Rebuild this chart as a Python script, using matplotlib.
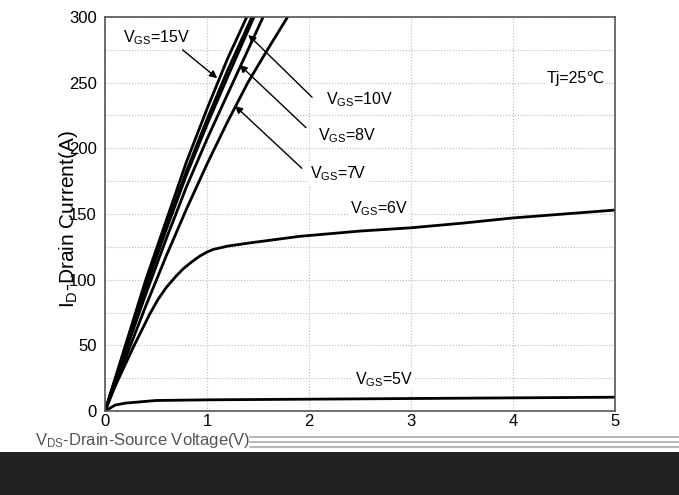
import numpy as np
import matplotlib
matplotlib.use('Agg')
import matplotlib.pyplot as plt
from matplotlib.patches import Rectangle
from matplotlib.lines import Line2D
from matplotlib.ticker import MultipleLocator

plt.rcParams['font.family'] = ['Liberation Sans', 'DejaVu Sans']
plt.rcParams['mathtext.fontset'] = 'custom'
plt.rcParams['mathtext.rm'] = 'Liberation Sans'
plt.rcParams['mathtext.it'] = 'Liberation Sans'

# 輸出特性曲線
VDS_15 = [0, 0.2, 0.4, 0.6, 0.8, 1.0, 1.2, 1.39]
ID_15  = [0, 50, 100, 145, 190, 230, 268, 300]

VDS_12 = [0, 0.2, 0.4, 0.6, 0.8, 1.0, 1.2, 1.44]
ID_12  = [0, 48, 96, 140, 183, 222, 259, 300]

VDS_10 = [0, 0.2, 0.4, 0.6, 0.8, 1.0, 1.2, 1.46]
ID_10  = [0, 47, 94, 138, 180, 218, 254, 300]

VDS_8 = [0, 0.2, 0.4, 0.6, 0.8, 1.0, 1.2, 1.55]
ID_8  = [0, 45, 89, 131, 171, 207, 241, 300]

VDS_7 = [0, 0.2, 0.4, 0.6, 0.8, 1.0, 1.2, 1.4, 1.6, 1.79]
ID_7  = [0, 40, 80, 118, 154, 188, 220, 250, 276, 300]

VDS_6 = [0, 0.1, 0.28, 0.44, 0.52, 0.6, 0.7, 0.77, 0.85, 0.93, 1.0, 1.06,
         1.2, 1.42, 1.91, 2.5, 3.0, 3.5, 4.0, 4.5, 5.0]
ID_6  = [0, 19, 49, 74, 85, 94, 103, 108.5, 113.5, 118, 121, 123,
         125.5, 128, 133, 137, 139.5, 143, 147, 150, 153]

VDS_5 = [0, 0.1, 0.2, 0.5, 1.0, 2.0, 3.0, 4.0, 5.0]
ID_5  = [0, 4.5, 6, 8, 8.5, 9, 9.5, 10, 10.5]

CURVES = [(VDS_15, ID_15), (VDS_12, ID_12), (VDS_10, ID_10), (VDS_8, ID_8),
          (VDS_7, ID_7), (VDS_6, ID_6), (VDS_5, ID_5)]

# 標籤：(文字, x, y)
LABELS = [
    ('V$_{\\mathrm{GS}}$=15V', 0.18, 284),
    ('V$_{\\mathrm{GS}}$=10V', 2.17, 237),
    ('V$_{\\mathrm{GS}}$=8V',  2.09, 210),
    ('V$_{\\mathrm{GS}}$=7V',  2.01, 180.5),
    ('V$_{\\mathrm{GS}}$=6V',  2.40, 154),
    ('V$_{\\mathrm{GS}}$=5V',  2.45, 24),
    ('Tj=25\u2103',            4.33, 253),
]

# 箭頭：(起點, 終點)
ARROWS = [
    ((0.76, 275.0), (1.10, 253.4)),
    ((2.03, 238.9), (1.405, 286.4)),
    ((1.97, 215.8), (1.32, 263.5)),
    ((1.93, 184.8), (1.275, 232.3)),
]

fig = plt.figure(figsize=(6.79, 4.95), dpi=100, facecolor='white')
ax = fig.add_axes([105/679, 84/495, 510/679, 394/495])

for vds, idv in CURVES:
    ax.plot(vds, idv, color='black', lw=2.0, solid_joinstyle='round')

for txt, x, y in LABELS:
    ax.text(x, y, txt, fontsize=11.5, ha='left', va='center',
            bbox=dict(facecolor='white', edgecolor='none', pad=1.0), zorder=4)

for tail, tip in ARROWS:
    ax.annotate('', xy=tip, xytext=tail,
                arrowprops=dict(arrowstyle='-|>', color='black', lw=1.0,
                                mutation_scale=11, shrinkA=0, shrinkB=0),
                zorder=5)

ax.set_xlim(0, 5)
ax.set_ylim(0, 300)
ax.set_xticks(range(6))
ax.set_yticks(range(0, 301, 50))
ax.yaxis.set_minor_locator(MultipleLocator(25))
ax.grid(True, which='both', axis='y', ls=':', color='#b8b8b8', lw=0.8)
ax.grid(True, which='major', axis='x', ls=':', color='#b8b8b8', lw=0.8)
ax.set_axisbelow(True)
ax.tick_params(which='both', length=0, labelsize=12)
ax.tick_params(axis='y', pad=6)
ax.tick_params(axis='x', pad=2)
for sp in ax.spines.values():
    sp.set_color('#555555')
    sp.set_linewidth(1.2)

# y 軸標籤與刻度重疊，原圖即如此
fig.text(69/679, 1 - 219/495, 'I$_{\\mathrm{D}}$-Drain Current(A)', rotation=90,
         ha='center', va='center', fontsize=15)

# 下方 x 軸標籤與深色區塊（照原圖）
fig.text(250/679, 1 - 440/495, 'V$_{\\mathrm{DS}}$-Drain-Source Voltage(V)',
         ha='right', va='center', fontsize=12, color='#555555')
for yy in (437, 442, 447):
    fig.add_artist(Line2D([250/679, 1], [1 - yy/495] * 2, color='#aaaaaa', lw=1.2))
fig.patches.append(Rectangle((0, 0), 1, 43/495, transform=fig.transFigure,
                             facecolor='#222222', edgecolor='none'))

fig.savefig('out.png', dpi=100)
